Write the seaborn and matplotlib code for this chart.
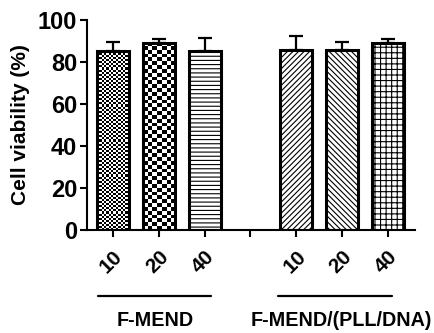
import numpy as np
import pandas as pd
import matplotlib
matplotlib.use("Agg")
import matplotlib.pyplot as plt
import matplotlib.transforms as mtransforms
import seaborn as sns

# Data
positions = [0, 1, 2, 4, 5, 6]
doses = ["10", "20", "40", "10", "20", "40"]
groups = ["F-MEND", "F-MEND", "F-MEND",
          "F-MEND/(PLL/DNA)", "F-MEND/(PLL/DNA)", "F-MEND/(PLL/DNA)"]
viability = [85.0, 89.0, 85.0, 85.5, 85.7, 89.0]
sd = [4.7, 2.0, 6.3, 7.0, 3.7, 2.0]
tick_positions = [0, 1, 2, 3, 4, 5, 6]
tick_labels = ["10", "20", "40", "", "10", "20", "40"]
group_names = ["F-MEND", "F-MEND/(PLL/DNA)"]

sns.set_style("ticks")
plt.rcParams["font.family"] = ["Liberation Sans", "DejaVu Sans"]
plt.rcParams["font.weight"] = "bold"
plt.rcParams["hatch.linewidth"] = 0.8
for key in ("text.color", "axes.labelcolor", "xtick.color", "ytick.color",
            "axes.edgecolor"):
    plt.rcParams[key] = "black"

df = pd.DataFrame({"pos": positions, "dose": doses, "group": groups,
                   "viability": viability})

fig = plt.figure(figsize=(4.35, 3.33), dpi=100)
ax = fig.add_axes([0.2, 0.309, 0.754, 0.631])

sns.barplot(data=df, x="pos", y="viability", native_scale=True, width=0.7,
            color="white", edgecolor="black", linewidth=2.2, errorbar=None,
            ax=ax)

bars = [p for p in ax.patches]
bars.sort(key=lambda p: p.get_x())
hatches = [None, None, "----", "//////", "\\\\\\\\\\\\", "+++"]
checker_sizes = [2.2, 4.5]
for i, (bar, h) in enumerate(zip(bars, hatches)):
    bar.set_facecolor("white")
    bar.set_edgecolor("black")
    if h is not None:
        bar.set_hatch(h)
    bar.set_zorder(2)

# checkered fills for the first two bars, clipped to the bar outlines
fig.canvas.draw()
for bar, cell_px in zip(bars[:2], checker_sizes):
    bb = bar.get_window_extent()
    nx = max(1, int(round(bb.width / cell_px)))
    ny = max(1, int(round(bb.height / cell_px)))
    board = (np.add.outer(np.arange(ny), np.arange(nx)) % 2).astype(float)
    x0, y0 = bar.get_x(), bar.get_y()
    im = ax.imshow(board, cmap="gray", vmin=0, vmax=1, interpolation="nearest",
                   extent=[x0, x0 + bar.get_width(), y0, y0 + bar.get_height()],
                   aspect="auto", zorder=1.5)
    im.set_clip_path(bar)
    bar.set_facecolor("none")

# upward error bars
ax.errorbar(positions, viability, yerr=[np.zeros(len(sd)), sd], fmt="none",
            ecolor="black", elinewidth=1.6, capsize=5, capthick=1.6, zorder=1)

ax.set_xlim(-0.565, 6.59)
ax.set_ylim(0, 100)
ax.set_yticks([0, 20, 40, 60, 80, 100])
ax.set_xticks(tick_positions)
ax.set_xticklabels(tick_labels, rotation=45, ha="right", rotation_mode="anchor",
                   fontsize=15, fontweight="bold")
shift = mtransforms.ScaledTranslation(-4 / 100, -1 / 100, fig.dpi_scale_trans)
for lbl in ax.get_xticklabels():
    lbl.set_transform(lbl.get_transform() + shift)
ax.tick_params(axis="x", length=5, width=1.5, pad=7)
ax.tick_params(axis="y", length=5, width=1.5, labelsize=17, pad=2)
for lbl in ax.get_yticklabels():
    lbl.set_fontweight("bold")
ax.set_xlabel("")
ax.set_ylabel("Cell viability (%)", fontsize=15, fontweight="bold", labelpad=6)
sns.despine(ax=ax)
for s in ("left", "bottom"):
    ax.spines[s].set_linewidth(1.5)

# group brackets and names below the axis
trans = mtransforms.blended_transform_factory(ax.transData, ax.transAxes)
for (xa, xb), name, xc in zip([(-0.33, 2.15), (3.6, 6.09)], group_names, [0.93, 4.98]):
    ax.plot([xa, xb], [-0.314, -0.314], color="black", lw=1.6, transform=trans,
            clip_on=False)
    ax.text(xc, -0.43, name, transform=trans, ha="center", va="center",
            fontsize=14.2, fontweight="bold")

fig.savefig("out.png", dpi=100)
